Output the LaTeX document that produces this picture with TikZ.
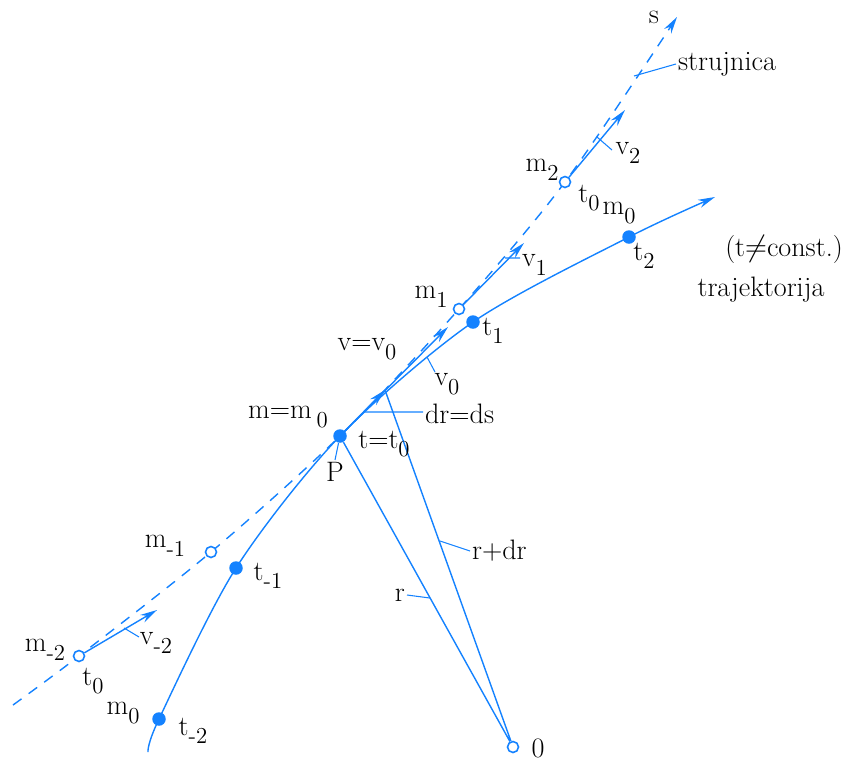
\documentclass[tikz,border=0pt]{standalone}
\usepackage{tikz}
\usetikzlibrary{arrows.meta,backgrounds}
\definecolor{flowBlue}{RGB}{20,130,255}
\newcommand{\idx}[1]{\raisebox{-0.7ex}{\fontsize{13}{14}\selectfont #1}}

\begin{document}
\begin{tikzpicture}[x=0.02cm,y=-0.02cm,
          font=\fontsize{16}{18}\selectfont,
          ln/.style={flowBlue,line width=0.8pt},
          vec/.style={flowBlue,line width=0.8pt,-{Stealth[length=3.4mm,width=1.7mm]}},
          lead/.style={flowBlue,line width=0.6pt},
          openpt/.style={circle,draw=flowBlue,fill=white,line width=0.9pt,
                      inner sep=0pt,minimum size=2.2mm},
          fullpt/.style={circle,fill=flowBlue,inner sep=0pt,minimum size=2.7mm}]
  \useasboundingbox (0,0) rectangle (852,762);
  % points of the streamline (t = t0)
  \node[openpt] (mm2) at (79,656) {};
  \node[openpt] (mm1) at (211,552) {};
  \node[openpt] (m1) at (459,309) {};
  \node[openpt] (m2) at (565,182) {};
  % points of the trajectory
  \node[fullpt] (P) at (340,436) {};
  \node[fullpt] (tm2) at (159,719) {};
  \node[fullpt] (tm1) at (236,568) {};
  \node[fullpt] (t1) at (473,322) {};
  \node[fullpt] (t2) at (629,237) {};
  \node[openpt] (O) at (513,747) {};
  \coordinate (sA) at (13,705);
  \coordinate (sB) at (677,17);
  \coordinate (tA) at (148,752);
  \coordinate (tB) at (715,197);
  \coordinate (R1) at (385,390);
  \begin{scope}[on background layer]
    \draw[ln,dash pattern=on 6pt off 5pt,-{Stealth[length=3.4mm,width=1.7mm]}]
      plot[smooth,tension=0.5] coordinates {(sA) (mm2) (mm1) (P) (m1) (m2) (sB)};
    \draw[ln,-{Stealth[length=3.4mm,width=1.7mm]}]
      plot[smooth,tension=0.5] coordinates {(tA) (tm2) (tm1) (P) (t1) (t2) (tB)};
  \end{scope}
  % vectors
  \coordinate (v2e) at (625,110);
  \coordinate (v1e) at (524,243);
  \coordinate (v0e) at (448,327);
  \coordinate (vm2e) at (157,610);
  \draw[vec] (m2) -- (v2e);
  \draw[vec] (m1) -- (v1e);
  \draw[vec] (P) -- (v0e);
  \draw[vec] (mm2) -- (vm2e);
  \draw[vec] (P) -- (R1);
  \draw[ln] (P) -- (O) (R1) -- (O);
  % labels
  \node (ls) at (654,17) {s};
  \node[anchor=west,inner sep=1pt] (lstr) at (676,64) {strujnica};
  \node (lv2) at (628,153) {v\idx{2}};
  \node (lm2) at (542,170) {m\idx{2}};
  \node (lt02) at (589,198) {t\idx{0}};
  \node (lm0a) at (619,213) {m\idx{0}};
  \node (lt2) at (644,256) {t\idx{2}};
  \node (lconst) at (784,249) {(t$\neq$const.)};
  \node (ltraj) at (761,290) {trajektorija};
  \node[anchor=west,inner sep=1pt] (lv1) at (520,265) {v\idx{1}};
  \node (lm1) at (431,297) {m\idx{1}};
  \node (lt1) at (493,331) {t\idx{1}};
  \node (lvv0) at (367,349) {v=v\idx{0}};
  \node (lv0) at (447,384) {v\idx{0}};
  \node[anchor=west,inner sep=1pt] (ldr) at (423,414) {dr=ds};
  \node (lmm0) at (288,417) {m=m\,\idx{0}};
  \node (ltt0) at (384,444) {t=t\idx{0}};
  \node[anchor=north,inner sep=1pt] (lP) at (335,460) {P};
  \node[anchor=west,inner sep=1pt] (lrdr) at (470,551) {r+dr};
  \node[anchor=east,inner sep=1pt] (lr) at (407,595) {r};
  \node (lmm1) at (165,546) {m\idx{-1}};
  \node (ltm1) at (268,576) {t\idx{-1}};
  \node (lvm2) at (156,643) {v\idx{-2}};
  \node (lmm2) at (45,650) {m\idx{-2}};
  \node (lt0m) at (93,681) {t\idx{0}};
  \node (lm0b) at (123,713) {m\idx{0}};
  \node (ltm2) at (193,731) {t\idx{-2}};
  \node (lO) at (538,748) {0};
  % leaders
  \coordinate (sj) at (634,76);
  \coordinate (v2p) at (597,137);
  \coordinate (v1p) at (505,258);
  \coordinate (v0p) at (427,357);
  \coordinate (drp) at (363,412);
  \coordinate (rdrp) at (440,541);
  \coordinate (rp) at (430,598);
  \coordinate (vm2p) at (124,628);
  \draw[lead] (sj) -- (lstr.west)
              (v2p) -- (612,150)
              (v1p) -- (lv1.west |- v1p)
              (v0p) -- (435,372)
              (drp) -- (ldr.west |- drp)
              (rdrp) -- (lrdr.west)
              (rp) -- (lr.east)
              (vm2p) -- (139,637)
              (P) -- (lP.north);
\end{tikzpicture}
\end{document}
